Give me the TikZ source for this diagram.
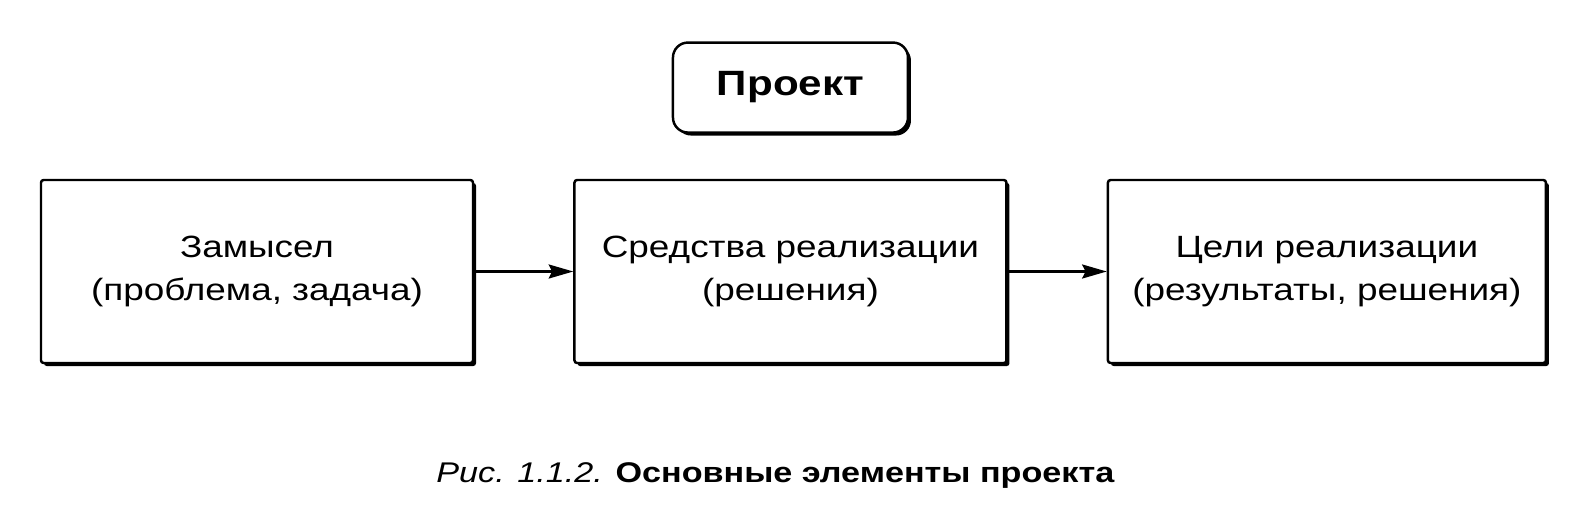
\documentclass[tikz,border=0pt]{standalone}
\usepackage{fontspec}
\setmainfont{Liberation Sans}[FakeStretch=1.2]
\usetikzlibrary{arrows.meta, positioning, shadows}

\begin{document}
\begin{tikzpicture}[
  node distance=1.98cm,
  part/.style={rectangle, rounded corners=1.5pt, draw=black, line width=1.4pt,
               fill=white, minimum width=8.64cm, minimum height=3.66cm,
               align=center, font=\fontsize{17.5}{24.5}\selectfont,
               drop shadow={shadow xshift=0.06cm, shadow yshift=-0.06cm,
                            fill=black, opacity=1}},
  title/.style={rectangle, rounded corners=0.3cm, draw=black, line width=1.4pt,
                fill=white, minimum width=4.7cm, minimum height=1.8cm,
                font=\fontsize{20}{24}\selectfont\bfseries,
                drop shadow={shadow xshift=0.06cm, shadow yshift=-0.06cm,
                             fill=black, opacity=1}},
  arr/.style={-{Stealth[length=14pt,width=8pt,inset=2pt]}, line width=1.3pt}
]
  \useasboundingbox (0,0) rectangle (31.88,-10.1);
  \node[part] (idea) at (5.14,-5.43) {Замысел\\(проблема, задача)};
  \node[part, right=of idea] (means) {Средства реализации\\(решения)};
  \node[part, right=of means, minimum width=8.76cm] (goals) {Цели реализации\\(результаты, решения)};
  \node[title, above=0.9cm of means] (proj) {Проект};
  \node[below=1.85cm of means, xshift=-0.3cm, font=\fontsize{16.2}{19}\selectfont] (cap)
       {\textit{Рис. 1.1.2.} \textbf{Основные элементы проекта}};

  \draw[arr] (idea)  -- (means);
  \draw[arr] (means) -- (goals);
\end{tikzpicture}
\end{document}
